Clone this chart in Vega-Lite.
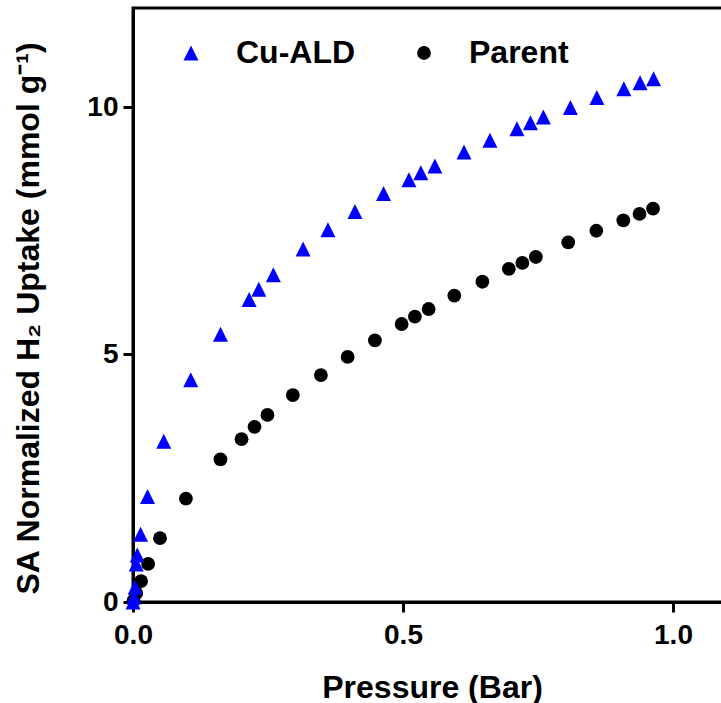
{
  "$schema": "https://vega.github.io/schema/vega-lite/v6.json",
  "width": 590,
  "height": 594,
  "autosize": {"type": "none"},
  "padding": {"left": 133, "top": 8, "right": 0, "bottom": 101},
  "background": "white",
  "config": {
    "view": {"stroke": "black", "strokeWidth": 3},
    "font": "Liberation Sans"
  },
  "data": {
    "values": [
      {"series": "Parent", "pressure": 0.001, "uptake": 0.03},
      {"series": "Parent", "pressure": 0.006, "uptake": 0.18},
      {"series": "Parent", "pressure": 0.015, "uptake": 0.42},
      {"series": "Parent", "pressure": 0.028, "uptake": 0.77},
      {"series": "Parent", "pressure": 0.050, "uptake": 1.29},
      {"series": "Parent", "pressure": 0.098, "uptake": 2.09},
      {"series": "Parent", "pressure": 0.162, "uptake": 2.88},
      {"series": "Parent", "pressure": 0.201, "uptake": 3.29},
      {"series": "Parent", "pressure": 0.225, "uptake": 3.54},
      {"series": "Parent", "pressure": 0.249, "uptake": 3.78},
      {"series": "Parent", "pressure": 0.296, "uptake": 4.18},
      {"series": "Parent", "pressure": 0.348, "uptake": 4.585},
      {"series": "Parent", "pressure": 0.3975, "uptake": 4.95},
      {"series": "Parent", "pressure": 0.448, "uptake": 5.285},
      {"series": "Parent", "pressure": 0.4975, "uptake": 5.616},
      {"series": "Parent", "pressure": 0.522, "uptake": 5.764},
      {"series": "Parent", "pressure": 0.5475, "uptake": 5.919},
      {"series": "Parent", "pressure": 0.595, "uptake": 6.19},
      {"series": "Parent", "pressure": 0.647, "uptake": 6.47},
      {"series": "Parent", "pressure": 0.696, "uptake": 6.73},
      {"series": "Parent", "pressure": 0.721, "uptake": 6.85},
      {"series": "Parent", "pressure": 0.746, "uptake": 6.97},
      {"series": "Parent", "pressure": 0.806, "uptake": 7.265},
      {"series": "Parent", "pressure": 0.858, "uptake": 7.50},
      {"series": "Parent", "pressure": 0.908, "uptake": 7.71},
      {"series": "Parent", "pressure": 0.938, "uptake": 7.84},
      {"series": "Parent", "pressure": 0.963, "uptake": 7.945},
      {"series": "Cu-ALD", "pressure": 0.0, "uptake": 0.0},
      {"series": "Cu-ALD", "pressure": 0.002, "uptake": 0.1},
      {"series": "Cu-ALD", "pressure": 0.004, "uptake": 0.3},
      {"series": "Cu-ALD", "pressure": 0.006, "uptake": 0.77},
      {"series": "Cu-ALD", "pressure": 0.008, "uptake": 0.95},
      {"series": "Cu-ALD", "pressure": 0.014, "uptake": 1.37},
      {"series": "Cu-ALD", "pressure": 0.027, "uptake": 2.13},
      {"series": "Cu-ALD", "pressure": 0.057, "uptake": 3.25},
      {"series": "Cu-ALD", "pressure": 0.107, "uptake": 4.49},
      {"series": "Cu-ALD", "pressure": 0.162, "uptake": 5.41},
      {"series": "Cu-ALD", "pressure": 0.215, "uptake": 6.11},
      {"series": "Cu-ALD", "pressure": 0.233, "uptake": 6.32},
      {"series": "Cu-ALD", "pressure": 0.260, "uptake": 6.61},
      {"series": "Cu-ALD", "pressure": 0.315, "uptake": 7.13},
      {"series": "Cu-ALD", "pressure": 0.361, "uptake": 7.52},
      {"series": "Cu-ALD", "pressure": 0.411, "uptake": 7.89},
      {"series": "Cu-ALD", "pressure": 0.464, "uptake": 8.255},
      {"series": "Cu-ALD", "pressure": 0.511, "uptake": 8.53},
      {"series": "Cu-ALD", "pressure": 0.533, "uptake": 8.67},
      {"series": "Cu-ALD", "pressure": 0.559, "uptake": 8.81},
      {"series": "Cu-ALD", "pressure": 0.613, "uptake": 9.09},
      {"series": "Cu-ALD", "pressure": 0.661, "uptake": 9.33},
      {"series": "Cu-ALD", "pressure": 0.711, "uptake": 9.56},
      {"series": "Cu-ALD", "pressure": 0.736, "uptake": 9.68},
      {"series": "Cu-ALD", "pressure": 0.760, "uptake": 9.80},
      {"series": "Cu-ALD", "pressure": 0.810, "uptake": 9.99},
      {"series": "Cu-ALD", "pressure": 0.859, "uptake": 10.19},
      {"series": "Cu-ALD", "pressure": 0.909, "uptake": 10.37},
      {"series": "Cu-ALD", "pressure": 0.939, "uptake": 10.49},
      {"series": "Cu-ALD", "pressure": 0.964, "uptake": 10.57}
    ]
  },
  "mark": {"type": "point", "filled": true, "opacity": 1, "clip": false, "strokeWidth": 0},
  "encoding": {
    "x": {
      "field": "pressure",
      "type": "quantitative",
      "scale": {"domain": [0, 1.0926], "nice": false, "zero": false},
      "axis": {
        "values": [0, 0.5, 1.0],
        "format": ".1f",
        "grid": false,
        "labelFlush": false,
        "labelOverlap": false,
        "labelFont": "Liberation Sans",
        "labelFontSize": 28,
        "labelFontWeight": "bold",
        "labelColor": "black",
        "labelPadding": 9,
        "tickSize": 10,
        "tickWidth": 3,
        "tickColor": "black",
        "domainColor": "black",
        "domainWidth": 3,
        "title": "Pressure (Bar)",
        "titleFont": "Liberation Sans",
        "titleFontSize": 32,
        "titleFontWeight": "bold",
        "titleColor": "black",
        "titleX": 299,
        "titleY": 95,
        "titleBaseline": "alphabetic",
        "titleAlign": "center"
      }
    },
    "y": {
      "field": "uptake",
      "type": "quantitative",
      "scale": {"domain": [0, 12], "nice": false, "zero": false},
      "axis": {
        "values": [0, 5, 10],
        "format": "d",
        "grid": false,
        "labelOverlap": false,
        "labelFlush": false,
        "labelFont": "Liberation Sans",
        "labelFontSize": 28,
        "labelFontWeight": "bold",
        "labelColor": "black",
        "labelPadding": 5,
        "tickSize": 10,
        "tickWidth": 3,
        "tickColor": "black",
        "domainColor": "black",
        "domainWidth": 3,
        "title": "SA Normalized H₂ Uptake (mmol g⁻¹)",
        "titleFont": "Liberation Sans",
        "titleFontSize": 32,
        "titleFontWeight": "bold",
        "titleColor": "black",
        "titleAngle": 270,
        "titleX": -105,
        "titleY": 310,
        "titleBaseline": "middle",
        "titleAlign": "center"
      }
    },
    "color": {
      "field": "series",
      "type": "nominal",
      "scale": {"domain": ["Cu-ALD", "Parent"], "range": ["#0000ff", "#000000"]},
      "legend": {
        "title": null,
        "orient": "none",
        "legendX": 42,
        "legendY": 29,
        "direction": "horizontal",
        "padding": 0,
        "labelFont": "Liberation Sans",
        "labelFontSize": 32,
        "labelFontWeight": "bold",
        "labelColor": "black",
        "labelOffset": 29,
        "columnPadding": 52,
        "symbolStrokeWidth": 0
      }
    },
    "shape": {
      "field": "series",
      "type": "nominal",
      "scale": {"domain": ["Cu-ALD", "Parent"], "range": ["M0,-1L-1,1L1,1Z", "circle"]},
      "legend": {
        "title": null,
        "orient": "none",
        "legendX": 42,
        "legendY": 29,
        "direction": "horizontal",
        "padding": 0,
        "labelFont": "Liberation Sans",
        "labelFontSize": 32,
        "labelFontWeight": "bold",
        "labelColor": "black",
        "labelOffset": 29,
        "columnPadding": 52,
        "symbolStrokeWidth": 0
      }
    },
    "size": {
      "field": "series",
      "type": "nominal",
      "scale": {"domain": ["Cu-ALD", "Parent"], "range": [225, 190]},
      "legend": {
        "title": null,
        "orient": "none",
        "legendX": 42,
        "legendY": 29,
        "direction": "horizontal",
        "padding": 0,
        "labelFont": "Liberation Sans",
        "labelFontSize": 32,
        "labelFontWeight": "bold",
        "labelColor": "black",
        "labelOffset": 29,
        "columnPadding": 52,
        "symbolStrokeWidth": 0
      }
    }
  }
}
